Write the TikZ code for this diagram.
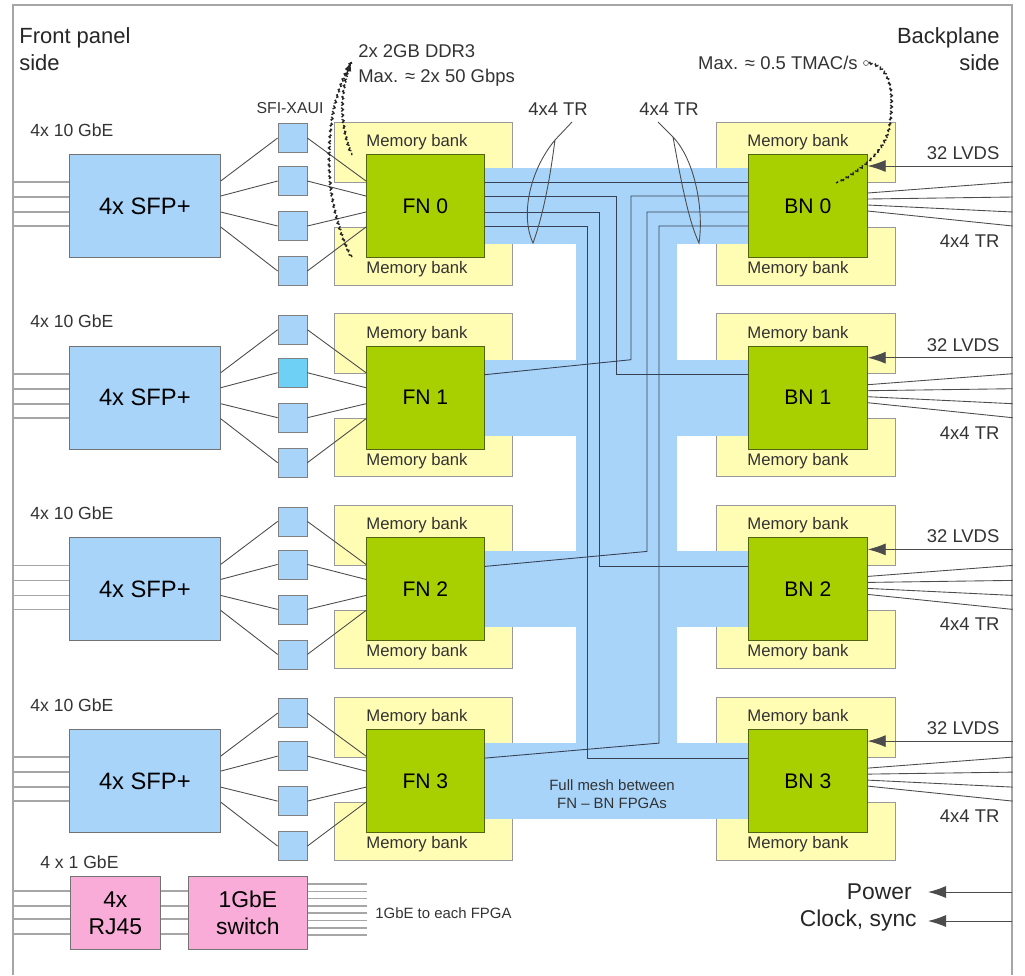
\documentclass[tikz,border=0pt]{standalone}
\usepackage{fontspec}
\setmainfont{Liberation Sans}
\usetikzlibrary{arrows.meta,calc,backgrounds,decorations.pathmorphing}

\definecolor{sfpblue}{RGB}{168,212,250}
\definecolor{xauicyan}{RGB}{110,208,245}
\definecolor{fngreen}{RGB}{168,208,0}
\definecolor{fnedge}{RGB}{80,100,20}
\definecolor{memyellow}{RGB}{255,252,180}
\definecolor{rjpink}{RGB}{250,172,216}
\definecolor{meshline}{RGB}{55,65,85}

\begin{document}
\begin{tikzpicture}[
    x=0.2mm, y=-0.2mm,
    sfpbox/.style={rectangle, draw=black!55, fill=sfpblue, anchor=north west, inner sep=0pt,
                   minimum width=30.2mm, minimum height=20.6mm, font=\fontsize{13.5}{16}\selectfont},
    fpga/.style={rectangle, draw=fnedge, fill=fngreen, anchor=north west, inner sep=0pt,
                 minimum width=23.6mm, minimum height=20.6mm, font=\fontsize{12}{14}\selectfont},
    xaui/.style={rectangle, draw=black!50, inner sep=0pt, minimum size=5.8mm},
    rjbox/.style={rectangle, draw=black!55, fill=rjpink, anchor=north west, inner sep=0pt,
                  minimum height=14.6mm, align=center, font=\fontsize{13}{15.5}\selectfont},
    membank/.style={draw=black!40, fill=memyellow},
    memlabel/.style={font=\fontsize{9.5}{11}\selectfont, text=black!80, inner sep=0pt},
    lbl/.style={font=\fontsize{10.5}{12}\selectfont, text=black!80, inner sep=0pt},
    small/.style={font=\fontsize{8.5}{10.2}\selectfont, text=black!80, inner sep=0pt, align=center},
    big/.style={font=\fontsize{13}{15.4}\selectfont, text=black!85, inner sep=0pt},
    band/.style={fill=sfpblue},
    wire/.style={draw=black!70, line width=0.5pt},
    extwire/.style={draw=black!35, line width=0.9pt},
    mesh/.style={draw=meshline, line width=0.5pt},
    inarrow/.style={-{Latex[length=3.6mm,width=2.4mm]}, draw=black!70, line width=0.5pt},
    lasso/.style={draw=black!70, line width=0.5pt},
    squiggle/.style={draw=black!85, line width=0.8pt, densely dashed, decorate,
                     decoration={snake, amplitude=0.45pt, segment length=1.6pt}},
    frame/.style={draw=black!35, line width=0.8pt}
]
\useasboundingbox (0,0) rectangle (1025,975);

% board outline
\draw[frame] (13,975) -- (13,5) -- (1012,5) -- (1012,975);

\node[font=\fontsize{12.5}{15.4}\selectfont, text=black!85, inner sep=0pt, align=left, anchor=west] (front) at (19,49) {Front panel\\side};
\node[font=\fontsize{12.5}{15.4}\selectfont, text=black!85, inner sep=0pt, align=right, anchor=east] (back) at (1000,49) {Backplane\\side};

% one row per FN/BN pair
\foreach \r in {0,...,3} {
  \pgfmathsetmacro{\rowy}{154+191.7*\r}
  \node[sfpbox] (sfp\r) at (69,\rowy) {4x SFP+};
  \node[fpga] (fn\r) at (366,\rowy) {FN \r};
  \node[fpga, minimum width=23.8mm] (bn\r) at (748,\rowy) {BN \r};
  \node[lbl, font=\fontsize{10}{12}\selectfont, anchor=west] (gbe\r) at (30,\rowy-24) {4x 10 GbE};
  \foreach \i/\o in {0/-16,1/27,2/72,3/117} {
    \ifnum\r\i=11 \def\sqfill{xauicyan}\else\def\sqfill{sfpblue}\fi
    \node[xaui, fill=\sqfill] (sq\r-\i) at (292.5,\rowy+\o) {};
  }
  \foreach \i/\a in {0/27,1/42,2/58,3/73} {
    \draw[wire] ($(sfp\r.north east)+(0,\a)$) -- (sq\r-\i.west);
    \draw[wire] (sq\r-\i.east) -- ($(fn\r.north west)+(0,\a)$);
  }
  \foreach \o in {28,43,58,72}
    \draw[extwire] ($(sfp\r.north west)+(-56,\o)$) -- ($(sfp\r.north west)+(0,\o)$);
  \foreach \s/\e in {39/28,45/43,51/58,57/72}
    \draw[wire] ($(bn\r.north east)+(0,\s)$) -- ($(bn\r.north east)+(145,\e)$);
  \coordinate (lv\r) at ($(bn\r.north east)+(145,12)$);
  \draw[inarrow] (lv\r) -- (lv\r -| bn\r.east);
  \node[lbl, anchor=east] (lvds\r) at ($(bn\r.north east)+(132,-1)$) {32 LVDS};
  \node[lbl, anchor=east] (tr\r) at ($(bn\r.north east)+(132,87)$) {4x4 TR};
  \node[memlabel] (mfa\r) at ($(fn\r.north west)+(51,-12)$) {Memory bank};
  \node[memlabel] (mfb\r) at ($(fn\r.north west)+(51,115)$) {Memory bank};
  \node[memlabel] (mba\r) at ($(bn\r.north west)+(50,-12)$) {Memory bank};
  \node[memlabel] (mbb\r) at ($(bn\r.north west)+(50,115)$) {Memory bank};
  \coordinate (bin\r) at ($(bn\r.north west)+(0,29)$);
  \coordinate (fin\r) at ($(fn\r.north east)+(0,29)$);
  \coordinate (bend\r) at ($(fn\r.north east)+(0,14)$);
}

% memory banks and mesh band
\begin{scope}[on background layer]
  \foreach \r in {0,...,3} {
    \foreach \n in {fn,bn} {
      \draw[membank] ($(\n\r.north west)+(-32,-32)$) rectangle ($(\n\r.north east)+(28,28)$);
      \draw[membank] ($(\n\r.north west)+(-32,73)$) rectangle ($(\n\r.north east)+(28,131)$);
    }
    \fill[band] ($(fn\r.north east)+(-2,14)$) rectangle ($(bn\r.north west)+(2,90)$);
  }
  \fill[band] ($(fn0.north east)+(91,14)$) rectangle ($(bn3.north west)+(-71,90)$);
\end{scope}

% mesh links of FN 0 and BN 0
\draw[mesh] ($(fn0.north east)+(0,28)$) -- ($(bn0.north west)+(0,28)$);
\foreach \k/\xa/\xb/\o in {1/616/631/42, 2/599/647/58, 3/587/659/72} {
  \draw[mesh] ($(fn0.north east)+(0,\o)$) -| (\xa,0 |- bin\k) -- (bin\k);
  \draw[mesh] ($(bn0.north west)+(0,\o)$) -| (\xb,0 |- bend\k) -- (fin\k);
}

\node[small] (meshtxt) at (612,794) {Full mesh between\\FN – BN FPGAs};
\node[lbl, font=\fontsize{9}{11}\selectfont] (xauitxt) at (290,108) {SFI-XAUI};

% 4x4 TR bundles
\node[lbl] (trl) at (558,109) {4x4 TR};
\node[lbl] (trr) at (669,109) {4x4 TR};
\draw[lasso] (572,122) -- (555,140) .. controls (530,170) and (520,215) .. (533,243)
             .. controls (545,210) and (551,170) .. (555,140);
\draw[lasso] (658,122) -- (673,137) .. controls (695,160) and (704,210) .. (699,243)
             .. controls (688,220) and (680,175) .. (673,137);

% memory and DSP notes
\node[lbl, align=left, anchor=west, font=\fontsize{10.5}{14.2}\selectfont] (ddr) at (358,65) {2x 2GB DDR3\\Max. ≈ 2x 50 Gbps};
\coordinate (ddrtip) at (351,62);
\draw[squiggle] (ddrtip) .. controls (338,95) and (342,130) .. (352,155);
\draw[squiggle] (ddrtip) .. controls (322,115) and (322,200) .. (352,257);
\draw[-{Latex[length=1.8mm,width=1.4mm]}, black!85, line width=0.7pt] (347,73) -- (ddrtip);

\node[lbl, anchor=east] (tmac) at (858,63) {Max. ≈ 0.5 TMAC/s};
\node[circle, draw=black!60, inner sep=0pt, minimum size=1mm] (tmacend) at (866,63) {};
\draw[squiggle] (tmacend.east) .. controls (893,68) and (893,100) .. (889,125)
                .. controls (885,150) and (862,170) .. (836,183);

% 1 GbE management
\node[lbl, font=\fontsize{10}{12}\selectfont, anchor=west] (gbeman) at (40,862) {4 x 1 GbE};
\node[rjbox, minimum width=18mm] (rj) at (70,876) {4x\\RJ45};
\node[rjbox, minimum width=23.8mm] (sw) at (188,876) {1GbE\\switch};
\foreach \o in {15,30,43,58} {
  \draw[extwire] ($(rj.north west)+(-57,\o)$) -- ($(rj.north west)+(0,\o)$);
  \draw[extwire] ($(rj.north east)+(0,\o)$) -- ($(sw.north west)+(0,\o)$);
}
\foreach \j in {0,...,7}
  \draw[extwire] ($(sw.north east)+(0,8+7.3*\j)$) -- ++(59,0);
\node[small, anchor=west] (each) at (375,913) {1GbE to each FPGA};

% power and clock
\node[big, anchor=east] (pwr) at (912,892) {Power};
\node[big, anchor=east] (clk) at (917,921) {Clock, sync};
\coordinate (pwrin) at (1012,892);
\coordinate (clkin) at (1012,921);
\draw[inarrow, shorten >=3.2mm] (pwrin) -- (pwr.east);
\draw[inarrow, shorten >=2.2mm] (clkin) -- (clk.east);
\end{tikzpicture}
\end{document}
